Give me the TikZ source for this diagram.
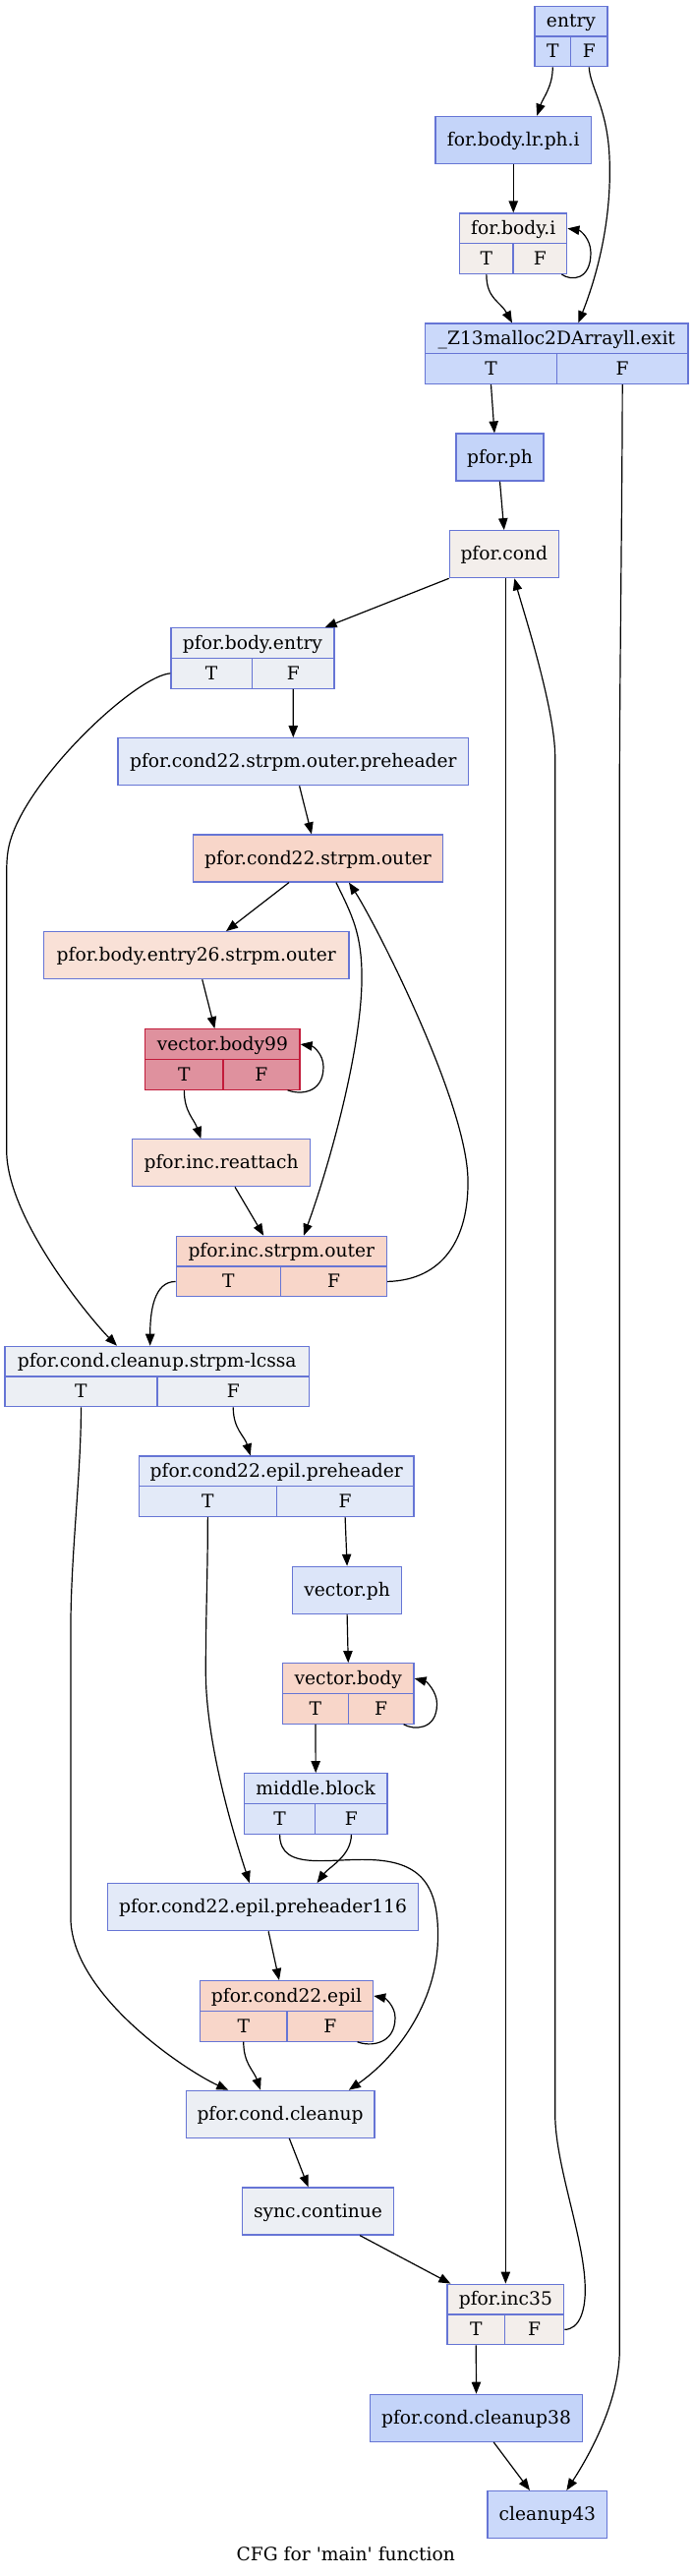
\documentclass[tikz,border=0pt]{standalone}
\usepackage{fontspec}
\setmainfont{DejaVu Serif}
\usetikzlibrary{arrows.meta,calc}
\definecolor{cfgline}{HTML}{6675D5}
\definecolor{cfghot}{HTML}{C21B3A}
\definecolor{heatA}{HTML}{C4D4F9}
\definecolor{heatB}{HTML}{CBD9FA}
\definecolor{heatC}{HTML}{DCE5F9}
\definecolor{heatD}{HTML}{E3EAF8}
\definecolor{heatE}{HTML}{ECEFF4}
\definecolor{heatF}{HTML}{F3EEEB}
\definecolor{heatG}{HTML}{F9E1D7}
\definecolor{heatH}{HTML}{F8D6C9}
\definecolor{heatI}{HTML}{DF919E}

% block: name, label, options, left, right, top
\newcommand{\cfgblock}[6]{%
  \node[blk,#3,minimum width={(#5-#4)*0.75pt}] (#1) at ({(#4+#5)/2},{#6+24}) {#2};}
% record with T|F row: name, label, options, left, mid, right, top
\newcommand{\cfgrecord}[7]{%
  \node[blk,cellrow,#3,minimum width={(#6-#4)*0.75pt}] (#1) at ({(#4+#6)/2},{#7+15.375}) {#2};
  \node[blk,cellrow,#3,minimum width={(#5-#4)*0.75pt}] (#1T) at ({(#4+#5)/2},{#7+46.125}) {T};
  \node[blk,cellrow,#3,minimum width={(#6-#5)*0.75pt}] (#1F) at ({(#5+#6)/2},{#7+46.125}) {F};}

\begin{document}
\begin{tikzpicture}[x=0.75pt,y=-0.75pt,
  blk/.style={draw=cfgline,line width=0.9pt,inner sep=0pt,minimum height=36pt,
    text height=12pt,text depth=2.6pt,font=\fontsize{14}{17}\selectfont},
  cellrow/.style={minimum height=23.06pt},
  cfgedge/.style={draw=black,line width=0.9pt,-{Triangle[length=9pt,width=7pt]}}]

  \useasboundingbox (0,0) rectangle (705,2620);

  % ---- Blocks ---------------------------------------------------
  \cfgrecord{entry}{entry}{fill=heatB}{544}{580.5}{618}{6.3}
  \cfgblock{lrph}{for.body.lr.ph.i}{fill=heatA}{443}{601.5}{118.3}
  \cfgrecord{forbody}{for.body.i}{fill=heatF}{467.7}{522}{576.8}{217}
  \cfgrecord{malloc}{\_Z13malloc2DArrayll.exit}{fill=heatB}{432.7}{566.3}{700}{329}
  \cfgblock{pforph}{pfor.ph}{fill=heatA}{464}{553}{441}
  \cfgblock{pforcond}{pfor.cond}{fill=heatF}{457.3}{568.3}{539.7}
  \cfgrecord{bodyentry}{pfor.body.entry}{fill=heatE}{173.9}{256.5}{340}{638.7}
  \cfgblock{outerpre}{pfor.cond22.strpm.outer.preheader}{fill=heatD}{120}{476.6}{750.7}
  \cfgblock{outer}{pfor.cond22.strpm.outer}{fill=heatH}{196.3}{450.6}{849}
  \cfgblock{entry26}{pfor.body.entry26.strpm.outer}{fill=heatG}{44.5}{355}{947.7}
  \cfgrecord{vbody99}{vector.body99}{fill=heatI,draw=cfghot}{147.8}{226.9}{305}{1046.7}
  \cfgblock{reattach}{pfor.inc.reattach}{fill=heatG}{134.3}{315.8}{1158.7}
  \cfgrecord{incouter}{pfor.inc.strpm.outer}{fill=heatH}{179.2}{285.7}{393.5}{1257.3}
  \cfgrecord{lcssa}{pfor.cond.cleanup.strpm-lcssa}{fill=heatE}{4.9}{160}{314.5}{1369.3}
  \cfgrecord{epilpre}{pfor.cond22.epil.preheader}{fill=heatD}{141.5}{281.2}{421}{1481}
  \cfgblock{vecph}{vector.ph}{fill=heatC}{297.8}{408.4}{1593.3}
  \cfgrecord{vbody}{vector.body}{fill=heatH}{287.5}{354.4}{421}{1691.7}
  \cfgrecord{middle}{middle.block}{fill=heatC}{248.4}{320.8}{394}{1803.7}
  \cfgblock{epilpre116}{pfor.cond22.epil.preheader116}{fill=heatD}{109.6}{425.4}{1915.7}
  \cfgrecord{epil}{pfor.cond22.epil}{fill=heatH}{203.5}{292}{379.6}{2014.6}
  \cfgblock{cleanup}{pfor.cond.cleanup}{fill=heatE}{189.1}{381}{2126.3}
  \cfgblock{sync}{sync.continue}{fill=heatE}{246.2}{400.7}{2225}
  \cfgrecord{inc35}{pfor.inc35}{fill=heatF}{455}{513.5}{573.7}{2323.2}
  \cfgblock{cleanup38}{pfor.cond.cleanup38}{fill=heatA}{376.5}{592.5}{2435.3}
  \cfgblock{cleanup43}{cleanup43}{fill=heatB}{496}{617.7}{2533.5}

  % caption
  \node[anchor=base,inner sep=0pt,font=\fontsize{14}{17}\selectfont] (title) at (351.8,2604)
    {CFG for \textquotesingle main\textquotesingle{} function};

  % ---- Entry part -----------------------------------------------
  \draw[cfgedge] (entryT.south) .. controls +(0,20) and +(6,-18) .. ($(lrph.north)+(24,0)$);
  \draw[cfgedge] (entryF.south) .. controls +(1,20) and +(-2,-50) .. (620,160)
    .. controls +(3,70) and +(15.5,-39) .. ($(malloc.north)+(22,0)$);
  \draw[cfgedge] (lrph.south) -- (forbody.north);
  \draw[cfgedge] ($(forbodyF.south east)+(-6,0)$) .. controls +(10,7) and +(0,28) .. (601,257)
    .. controls +(0,-14) and +(13,2) .. (forbody.east);
  \draw[cfgedge] (forbodyT.south) .. controls +(0,25) and +(-12,-22) .. ($(malloc.north)+(-45.35,0)$);
  \draw[cfgedge] (mallocT.south) -- ($(pforph.north)+(-5.5,0)$);
  \draw[cfgedge] (mallocF.south) .. controls +(0,100) and +(0,-100) .. (630.3,800) -- (630.3,2390)
    .. controls +(0,60) and +(13,-20) .. ($(cleanup43.north)+(19.5,0)$);

  % ---- pfor loop ------------------------------------------------
  \draw[cfgedge] (pforph.south) -- (pforcond.north);
  \draw[cfgedge] (pforcond.south west) -- ($(bodyentry.north east)+(-10,0)$);
  \draw[cfgedge] (pforcond.south -| inc35.north) -- (inc35.north);
  \draw[cfgedge] (inc35F.east) .. controls +(15,0) and +(2,30) .. (595,2320)
    .. controls +(-3,-50) and +(0,50) .. (564.7,2150) -- (564.7,770)
    .. controls +(0,-50) and +(8,30) .. ($(pforcond.south)+(10.6,0)$);
  \draw[cfgedge] (bodyentryT.west) .. controls +(-34,3) and +(26,-65) .. (14,845)
    .. controls +(-6,15) and +(0,-20) .. (6.7,890) -- (6.7,1170)
    .. controls +(0,70) and +(-25,-25) .. ($(lcssa.north)+(-40.7,0)$);
  \draw[cfgedge] (bodyentryF.south) -- (outerpre.north);

  % ---- strpm outer loop -----------------------------------------
  \draw[cfgedge] ($(outerpre.south)+(6.3,0)$) -- ($(outer.north)+(-6.5,0)$);
  \draw[cfgedge] ($(outer.south)+(-29.5,0)$) -- ($(entry26.north)+(30.25,0)$);
  \draw[cfgedge] ($(outer.south)+(18.5,0)$) .. controls +(16,33) and +(1,-50) .. (368,1000)
    .. controls +(-2,80) and +(21,-57) .. ($(incouter.north)+(22.65,0)$);
  \draw[cfgedge] ($(entry26.south)+(6,0)$) -- ($(vbody99.north)+(-8,0)$);
  \draw[cfgedge] ($(vbody99F.south east)+(-13,0)$) .. controls +(13,5) and +(0,27) .. (329,1085)
    .. controls +(0,-13) and +(13,2) .. (vbody99.east);
  \draw[cfgedge] (vbody99T.south) .. controls +(0,22) and +(-7,-20) .. ($(reattach.north)+(-20.65,0)$);
  \draw[cfgedge] ($(reattach.south)+(14,0)$) -- ($(incouter.north)+(-18.15,0)$);
  \draw[cfgedge] (incouterF.east) .. controls +(56.5,-1.4) and +(1,60) .. (476,1200)
    .. controls +(-1,-80) and +(25,38) .. ($(outer.south)+(31.5,0)$);
  \draw[cfgedge] (incouterT.west) .. controls +(-22,0) and +(0,-35) .. ($(lcssa.north)+(-7,0)$);

  % ---- epilogue -------------------------------------------------
  \draw[cfgedge] (lcssaT.south) .. controls +(0,70) and +(0,-80) .. (71.9,1660) -- (71.9,1950)
    .. controls +(0,80) and +(-40,-18) .. ($(cleanup.north)+(-52.75,0)$);
  \draw[cfgedge] (lcssaF.south) .. controls +(0,22) and +(-6,-20) .. ($(epilpre.north)+(-26.5,0)$);
  \draw[cfgedge] (epilpreT.south) .. controls +(0,60) and +(0,-60) .. (209.3,1700)
    .. controls +(0,80) and +(-10,-31) .. ($(epilpre116.north)+(-13.7,0)$);
  \draw[cfgedge] (epilpreF.south) -- (vecph.north);
  \draw[cfgedge] (vecph.south) -- (vbody.north);
  \draw[cfgedge] ($(vbodyF.south east)+(-11,0)$) .. controls +(10,6) and +(0,27) .. (444.5,1733)
    .. controls +(0,-13) and +(12,3) .. (vbody.east);
  \draw[cfgedge] (vbodyT.south) -- (middle.north);
  \draw[cfgedge] (middleF.south) .. controls +(0,22) and +(12,-16) .. ($(epilpre116.north)+(55,0)$);
  \draw[cfgedge] (middleT.south) .. controls +(0,40) and +(-45,-4) .. (385,1892)
    .. controls +(45,4) and +(0.5,-50) .. (445.5,1970)
    .. controls +(-0.5,70) and +(45,-31) .. ($(cleanup.north)+(69.85,0)$);
  \draw[cfgedge] ($(epilpre116.south)+(5.6,0)$) -- ($(epil.north)+(-7.55,0)$);
  \draw[cfgedge] ($(epilF.south east)+(-16.6,0)$) .. controls +(12,5) and +(0,28) .. (402,2052)
    .. controls +(0,-12) and +(11,2) .. (epil.east);
  \draw[cfgedge] (epilT.south) .. controls +(0,22) and +(-7,-20) .. ($(cleanup.north)+(-20,0)$);

  % ---- exit -----------------------------------------------------
  \draw[cfgedge] ($(cleanup.south)+(9.25,0)$) -- ($(sync.north)+(-9.85,0)$);
  \draw[cfgedge] ($(sync.south)+(42.65,0)$) -- ($(inc35.north west)+(4,0)$);
  \draw[cfgedge] (inc35T.south) -- (cleanup38.north);
  \draw[cfgedge] ($(cleanup38.south)+(17.7,0)$) -- ($(cleanup43.north)+(-17.85,0)$);

\end{tikzpicture}
\end{document}
